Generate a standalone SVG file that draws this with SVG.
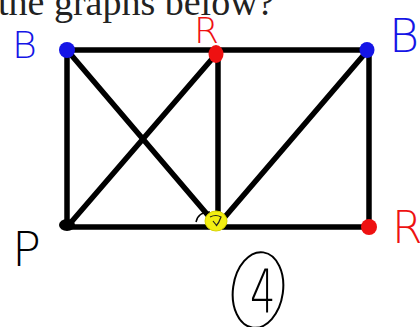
<svg xmlns="http://www.w3.org/2000/svg" width="420" height="327" viewBox="0 0 420 327">
<style>
.e{stroke:#000;stroke-width:5.5;stroke-linecap:round;fill:none}
.hdr{font-family:"Liberation Serif",serif;font-size:38px;fill:#222}
.lb{font-family:"DejaVu Sans","Liberation Sans",sans-serif;font-weight:200}
.blue{fill:#1515e6}
.red{fill:#ee1111}
.blk{fill:#000}
</style>
<rect width="420" height="327" fill="#fff"/>
<text class="hdr" x="-2" y="15">the graphs below?</text>
<g id="connectors">
<line class="e" x1="67" y1="50" x2="368" y2="50"/>
<line class="e" x1="67" y1="227" x2="369" y2="227"/>
<line class="e" x1="67" y1="50" x2="67" y2="227"/>
<line class="e" x1="369" y1="50" x2="369" y2="227"/>
<line class="e" x1="218" y1="52" x2="218" y2="225"/>
<line class="e" x1="67" y1="50" x2="212" y2="220"/>
<line class="e" x1="67" y1="227" x2="218" y2="52"/>
<line class="e" x1="218" y1="225" x2="368" y2="50"/>
</g>
<g id="n-tl"><ellipse cx="67" cy="50" rx="8" ry="8" class="blue"/><text class="lb blue" x="12" y="58" font-size="38">B</text></g>
<g id="n-tm"><ellipse cx="216" cy="54" rx="7.5" ry="9" class="red"/><text class="lb red" x="194" y="43" font-size="36">R</text></g>
<g id="n-tr"><ellipse cx="367" cy="50" rx="7.5" ry="8" class="blue"/><text class="lb blue" x="389" y="52" font-size="46">B</text></g>
<g id="n-bl"><ellipse cx="67" cy="225" rx="8" ry="6" class="blk"/><text class="lb blk" x="12" y="266" font-size="48">P</text></g>
<g id="n-bm"><path d="M196,222 Q198,212 210,212" stroke="#000" stroke-width="1.5" fill="none"/><ellipse cx="216" cy="221" rx="11" ry="10" fill="#f2ee12" stroke="#d8d400" stroke-width="1"/><path d="M210,217 q6,-3 11,0 q-2,6 -5,9 M213,221 l4,5" stroke="#222" stroke-width="1.2" fill="none"/></g>
<g id="n-br"><ellipse cx="369" cy="227" rx="8" ry="8" class="red"/><text class="lb red" x="392" y="243" font-size="44">R</text></g>
<g id="label-4"><ellipse cx="258" cy="290" rx="25" ry="38" fill="none" stroke="#000" stroke-width="2" transform="rotate(8 258 290)"/><text class="lb blk" x="0" y="0" font-size="40" transform="translate(250 313) scale(1 1.5)">4</text></g>
</svg>
